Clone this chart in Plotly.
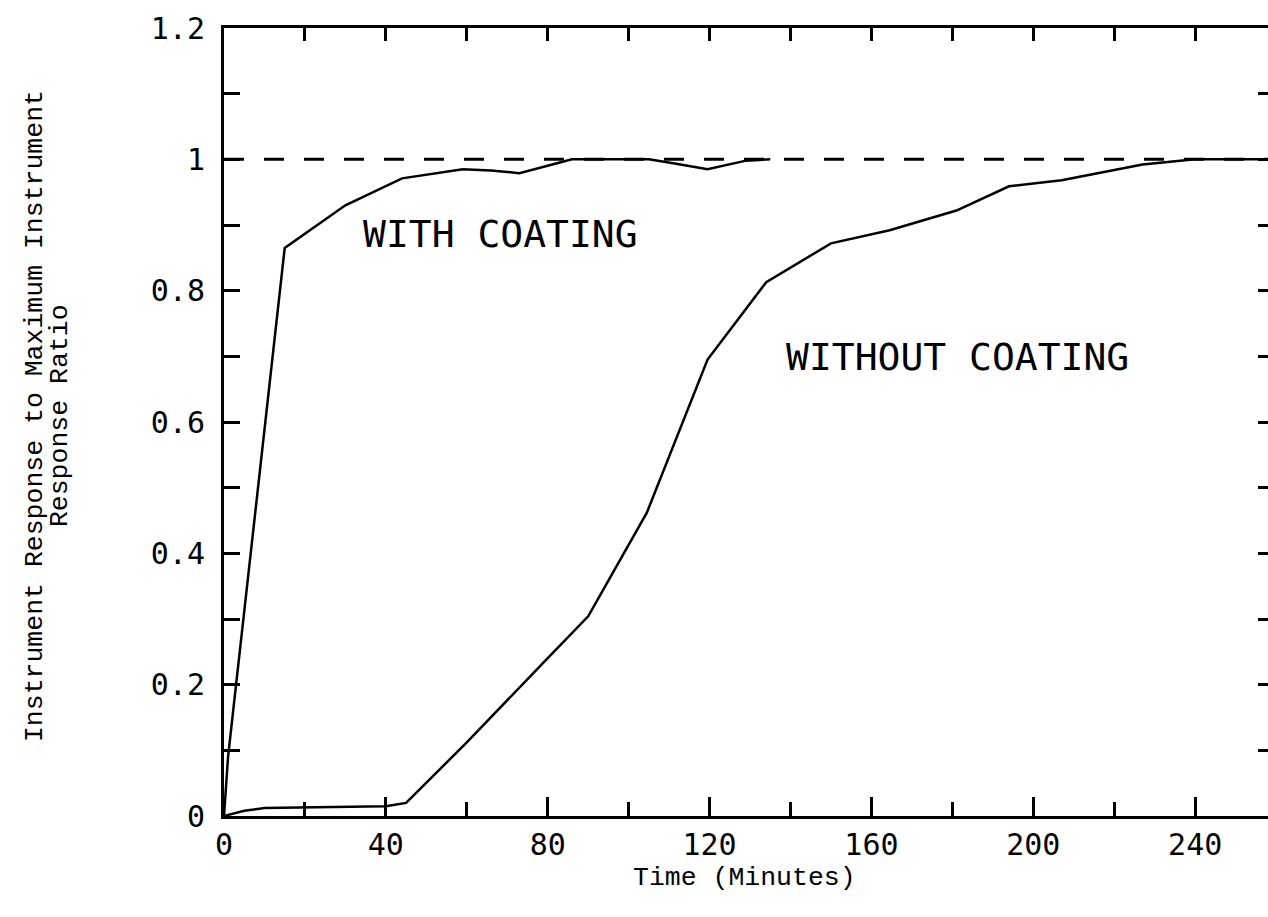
import plotly.graph_objects as go

# Time (minutes) and response ratio
with_t = [0, 1, 15, 30, 44, 59, 66, 73, 86, 105, 111, 119.5, 129, 135]
with_r = [0, 0.09, 0.865, 0.93, 0.971, 0.985, 0.983, 0.979, 1.0, 1.0, 0.994, 0.985, 0.998, 1.0]

without_t = [0, 5, 10, 20, 40, 45, 60, 79, 90, 104.5, 119.5, 134, 150, 164.5, 181, 194, 207, 227, 240, 258]
without_r = [0, 0.008, 0.012, 0.013, 0.015, 0.02, 0.112, 0.234, 0.304, 0.462, 0.695, 0.813, 0.872,
             0.892, 0.922, 0.959, 0.968, 0.992, 1.0, 1.0]

ref_t = [0, 258]
ref_r = [1, 1]

x_ticks = [0, 40, 80, 120, 160, 200, 240]
x_ticktext = ["0", "40", "80", "120", "160", "200", "240"]
y_ticks = [0, 0.2, 0.4, 0.6, 0.8, 1.0, 1.2]
y_ticktext = ["0", "0.2", "0.4", "0.6", "0.8", "1", "1.2"]

label_with = "WITH COATING"
label_without = "WITHOUT COATING"
x_title = "Time (Minutes)"
y_title_1 = "Instrument Response to Maximum Instrument"
y_title_2 = "Response Ratio"

XR = [0, 258]
YR = [0, 1.2]

fig = go.Figure()
fig.add_trace(go.Scatter(x=ref_t, y=ref_r, mode="lines",
                         line=dict(color="black", width=3, dash="20px,20px"), showlegend=False))
fig.add_trace(go.Scatter(x=with_t, y=with_r, mode="lines",
                         line=dict(color="black", width=2.5), showlegend=False))
fig.add_trace(go.Scatter(x=without_t, y=without_r, mode="lines",
                         line=dict(color="black", width=2.5), showlegend=False))
# invisible trace to anchor the secondary (tick-only) axes
fig.add_trace(go.Scatter(x=[XR[0]], y=[YR[0]], xaxis="x2", yaxis="y2", mode="markers",
                         marker=dict(opacity=0), showlegend=False, hoverinfo="skip"))

tick_font = dict(family="DejaVu Sans Mono", size=30, color="black")
title_font = dict(family="Liberation Mono", size=26.5, color="black")

fig.update_layout(
    width=1268, height=917,
    margin=dict(l=224, r=0, t=28, b=101),
    paper_bgcolor="white", plot_bgcolor="white",
    xaxis=dict(range=XR, tickvals=x_ticks, ticktext=x_ticktext, ticks="inside", ticklen=19,
               tickwidth=2.5, tickcolor="black", showline=True, linewidth=3, linecolor="black",
               showgrid=False, zeroline=False, tickfont=tick_font,
               minor=dict(dtick=20, tick0=0, ticks="inside", ticklen=14, tickwidth=2.5, tickcolor="black")),
    yaxis=dict(range=YR, tickvals=y_ticks, ticktext=y_ticktext, ticks="inside", ticklen=16,
               tickwidth=2.5, tickcolor="black", showline=True, linewidth=3, linecolor="black",
               showgrid=False, zeroline=False, tickfont=tick_font, ticklabelstandoff=10,
               minor=dict(dtick=0.1, tick0=0, ticks="inside", ticklen=16, tickwidth=2.5, tickcolor="black")),
    xaxis2=dict(range=XR, overlaying="x", side="top", anchor="y2", dtick=20, tick0=0,
                ticks="inside", ticklen=13, tickwidth=2.5, tickcolor="black", showline=True,
                linewidth=2.5, linecolor="black", showticklabels=False, showgrid=False, zeroline=False),
    yaxis2=dict(range=YR, overlaying="y", side="right", anchor="x2", dtick=0.1, tick0=0,
                ticks="inside", ticklen=10, tickwidth=2.5, tickcolor="black", showline=False,
                showticklabels=False, showgrid=False, zeroline=False),
    annotations=[
        dict(x=68.4, y=0.886, xref="x", yref="y", text=label_with, showarrow=False,
             font=dict(family="DejaVu Sans Mono", size=38, color="black"), xanchor="center", yanchor="middle"),
        dict(x=181.2, y=0.699, xref="x", yref="y", text=label_without, showarrow=False,
             font=dict(family="DejaVu Sans Mono", size=38, color="black"), xanchor="center", yanchor="middle"),
        dict(x=0.499, y=-0.0787, xref="paper", yref="paper", text=x_title, showarrow=False,
             font=title_font, xanchor="center", yanchor="middle"),
        dict(x=-0.181, y=0.5076, xref="paper", yref="paper", text=y_title_1, showarrow=False,
             textangle=-90, font=title_font, xanchor="center", yanchor="middle"),
        dict(x=-0.157, y=0.5076, xref="paper", yref="paper", text=y_title_2, showarrow=False,
             textangle=-90, font=title_font, xanchor="center", yanchor="middle"),
    ],
)

fig.write_html("out.html")
